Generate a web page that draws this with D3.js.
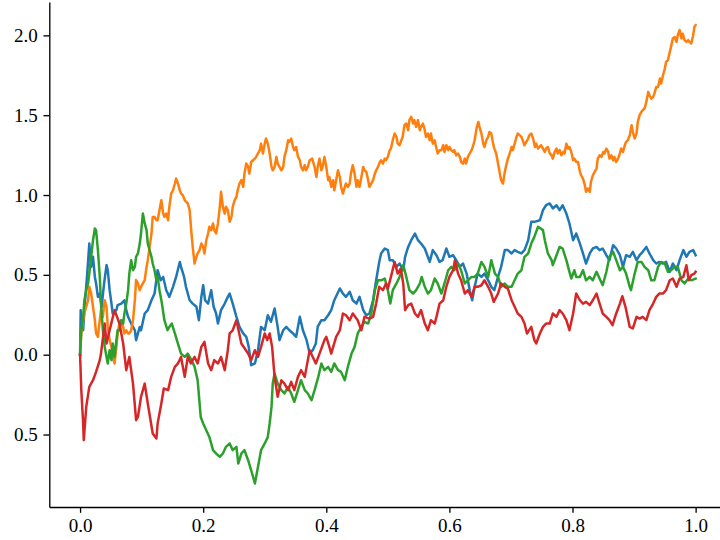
<!DOCTYPE html>
<html>
<head>
<meta charset="utf-8">
<script src="https://cdn.jsdelivr.net/npm/d3@7"></script>
<style>
  html, body { margin: 0; padding: 0; background: #fff; }
  svg { display: block; }
</style>
</head>
<body>
<script>
// ---- data (time, value) ----
const blue = [[0,0],[.001,.279],[.005,.153],[.007,.279],[.012,.529],[.015,.696],[.018,.55],[.021,.613],[.024,.487],[.026,.446],[.029,.362],[.032,.383],[.035,.3],[.039,.446],[.043,.561],[.045,.529],[.048,.404],[.051,.32],[.053,.258],[.059,.279],[.061,.31],[.067,.32],[.072,.341],[.075,.279],[.078,.237],[.083,.195],[.089,.153],[.091,.091],[.097,.174],[.099,.153],[.105,.258],[.11,.279],[.116,.341],[.121,.383],[.126,.529],[.131,.466],[.135,.487],[.14,.404],[.145,.362],[.151,.425],[.156,.487],[.162,.581],[.164,.55],[.169,.487],[.172,.425],[.178,.341],[.183,.32],[.189,.3],[.193,.216],[.197,.362],[.2,.435],[.203,.341],[.208,.32],[.213,.404],[.217,.3],[.221,.258],[.224,.195],[.229,.279],[.235,.32],[.24,.362],[.243,.383],[.248,.32],[.254,.237],[.259,.174],[.265,.133],[.27,.112],[.274,.049],[.278,-.066],[.284,-.055],[.289,.028],[.294,.174],[.3,.153],[.305,.247],[.31,.206],[.316,.289],[.321,.174],[.324,.091],[.33,.153],[.335,.174],[.34,.153],[.346,.133],[.351,.112],[.357,.237],[.362,.153],[.368,.091],[.373,.007],[.378,.028],[.383,.07],[.386,.174],[.392,.216],[.397,.216],[.403,.247],[.408,.279],[.413,.341],[.422,.415],[.427,.383],[.432,.362],[.438,.394],[.443,.341],[.449,.32],[.454,.362],[.46,.279],[.465,.247],[.47,.258],[.476,.341],[.481,.466],[.486,.581],[.489,.634],[.495,.665],[.5,.655],[.503,.592],[.508,.592],[.514,.55],[.519,.571],[.525,.529],[.528,.613],[.533,.675],[.538,.717],[.544,.759],[.549,.717],[.554,.696],[.56,.665],[.564,.623],[.568,.581],[.573,.655],[.579,.623],[.584,.581],[.589,.592],[.595,.665],[.6,.613],[.606,.623],[.611,.592],[.617,.55],[.622,.571],[.628,.508],[.633,.404],[.637,.341],[.641,.425],[.646,.508],[.652,.487],[.657,.508],[.663,.466],[.668,.425],[.673,.404],[.679,.487],[.684,.55],[.69,.655],[.695,.655],[.701,.634],[.706,.655],[.711,.644],[.717,.634],[.722,.655],[.728,.717],[.733,.832],[.738,.832],[.747,.842],[.752,.905],[.757,.936],[.763,.947],[.768,.916],[.774,.936],[.779,.905],[.784,.936],[.79,.884],[.795,.822],[.801,.717],[.806,.759],[.812,.696],[.817,.634],[.822,.571],[.828,.634],[.833,.665],[.839,.675],[.844,.655],[.849,.665],[.855,.623],[.86,.592],[.866,.686],[.871,.665],[.877,.623],[.882,.55],[.887,.623],[.893,.613],[.898,.644],[.904,.592],[.909,.623],[.914,.644],[.92,.675],[.925,.634],[.931,.592],[.936,.571],[.941,.581],[.947,.571],[.952,.581],[.958,.519],[.963,.571],[.969,.529],[.974,.592],[.98,.655],[.985,.613],[.99,.644],[.996,.655],[1,.623]];

const orange = [[0,0],[.002,.133],[.005,.216],[.007,.258],[.01,.3],[.013,.341],[.015,.425],[.018,.383],[.021,.3],[.024,.216],[.026,.133],[.029,.112],[.032,.216],[.034,.279],[.037,.237],[.04,.341],[.043,.3],[.045,.174],[.048,.091],[.051,.049],[.053,-.014],[.056,-.055],[.059,.049],[.061,.133],[.064,.195],[.067,.216],[.07,.174],[.072,.133],[.075,.153],[.078,.133],[.08,.133],[.083,.153],[.086,.216],[.089,.341],[.091,.467],[.094,.446],[.097,.404],[.099,.425],[.102,.446],[.105,.467],[.108,.55],[.11,.592],[.113,.675],[.116,.759],[.118,.863],[.121,.863],[.124,.842],[.126,.842],[.129,.904],[.132,.967],[.135,.884],[.137,.863],[.14,.884],[.143,.842],[.145,.926],[.148,1.009],[.151,1.03],[.154,1.072],[.156,1.103],[.159,1.072],[.162,1.03],[.164,1.009],[.167,.999],[.17,.967],[.175,.947],[.178,.905],[.181,.759],[.183,.675],[.186,.571],[.189,.613],[.191,.634],[.194,.654],[.197,.696],[.2,.675],[.202,.634],[.205,.717],[.208,.759],[.21,.801],[.213,.78],[.216,.822],[.218,.78],[.221,.759],[.224,.822],[.227,.926],[.229,1.02],[.232,.926],[.235,.884],[.237,.926],[.24,.905],[.243,.832],[.246,.863],[.248,.926],[.251,.967],[.254,.988],[.256,1.03],[.259,1.072],[.262,1.093],[.265,1.051],[.267,1.134],[.27,1.197],[.273,1.176],[.275,1.134],[.278,1.207],[.281,1.218],[.284,1.228],[.286,1.239],[.289,1.26],[.292,1.281],[.294,1.322],[.297,1.26],[.3,1.322],[.302,1.354],[.305,1.322],[.308,1.26],[.311,1.176],[.313,1.155],[.316,1.176],[.319,1.239],[.321,1.197],[.324,1.176],[.327,1.155],[.33,1.176],[.332,1.239],[.335,1.281],[.338,1.343],[.34,1.333],[.343,1.354],[.346,1.301],[.348,1.281],[.351,1.301],[.354,1.239],[.357,1.218],[.359,1.176],[.362,1.155],[.365,1.187],[.367,1.155],[.37,1.176],[.373,1.218],[.377,1.228],[.381,1.176],[.384,1.113],[.386,1.176],[.389,1.228],[.392,1.155],[.394,1.176],[.397,1.239],[.4,1.176],[.403,1.093],[.405,1.113],[.408,1.051],[.411,1.093],[.413,1.03],[.416,1.093],[.419,1.155],[.422,1.113],[.424,1.051],[.427,1.009],[.43,1.051],[.432,1.072],[.435,1.051],[.438,1.072],[.44,1.134],[.443,1.187],[.446,1.134],[.449,1.051],[.451,1.093],[.454,1.051],[.457,1.113],[.46,1.176],[.462,1.155],[.465,1.145],[.468,1.093],[.47,1.051],[.473,1.072],[.476,1.093],[.478,1.124],[.481,1.155],[.484,1.176],[.487,1.207],[.489,1.218],[.492,1.197],[.495,1.228],[.497,1.218],[.5,1.239],[.503,1.281],[.505,1.291],[.508,1.343],[.511,1.385],[.514,1.364],[.516,1.322],[.519,1.312],[.522,1.343],[.524,1.364],[.527,1.437],[.53,1.448],[.533,1.406],[.535,1.469],[.538,1.49],[.541,1.448],[.543,1.469],[.546,1.427],[.549,1.469],[.552,1.406],[.554,1.427],[.557,1.448],[.56,1.406],[.562,1.364],[.565,1.385],[.568,1.343],[.57,1.385],[.573,1.322],[.576,1.343],[.579,1.291],[.581,1.26],[.584,1.281],[.587,1.281],[.59,1.312],[.592,1.27],[.595,1.312],[.598,1.281],[.6,1.301],[.603,1.281],[.606,1.27],[.608,1.281],[.611,1.249],[.614,1.26],[.617,1.239],[.619,1.207],[.622,1.197],[.625,1.228],[.627,1.197],[.63,1.239],[.633,1.26],[.636,1.281],[.638,1.301],[.641,1.343],[.644,1.416],[.647,1.458],[.649,1.427],[.652,1.385],[.655,1.322],[.657,1.301],[.66,1.343],[.663,1.364],[.665,1.395],[.668,1.385],[.671,1.322],[.673,1.291],[.676,1.26],[.679,1.197],[.682,1.134],[.684,1.093],[.687,1.072],[.69,1.145],[.693,1.197],[.695,1.228],[.698,1.26],[.701,1.301],[.703,1.281],[.706,1.322],[.709,1.364],[.711,1.385],[.714,1.375],[.717,1.364],[.72,1.333],[.722,1.312],[.725,1.333],[.728,1.354],[.73,1.375],[.733,1.385],[.736,1.354],[.739,1.301],[.741,1.322],[.744,1.291],[.749,1.312],[.752,1.291],[.755,1.27],[.757,1.291],[.76,1.301],[.763,1.26],[.766,1.249],[.768,1.228],[.771,1.27],[.774,1.291],[.776,1.26],[.779,1.281],[.782,1.249],[.785,1.27],[.787,1.26],[.79,1.322],[.793,1.291],[.795,1.301],[.798,1.27],[.801,1.218],[.803,1.228],[.806,1.207],[.809,1.207],[.812,1.145],[.814,1.124],[.817,1.103],[.82,1.062],[.822,1.02],[.825,1.041],[.828,1.02],[.83,1.083],[.833,1.124],[.836,1.145],[.839,1.166],[.841,1.228],[.844,1.249],[.847,1.239],[.85,1.27],[.852,1.26],[.855,1.291],[.858,1.27],[.86,1.228],[.863,1.249],[.866,1.218],[.868,1.239],[.871,1.207],[.874,1.228],[.876,1.249],[.879,1.291],[.882,1.27],[.885,1.312],[.887,1.333],[.89,1.343],[.893,1.375],[.896,1.437],[.898,1.396],[.901,1.354],[.904,1.385],[.906,1.458],[.909,1.5],[.912,1.521],[.914,1.531],[.917,1.542],[.92,1.583],[.923,1.646],[.925,1.625],[.928,1.604],[.931,1.615],[.933,1.635],[.936,1.677],[.939,1.677],[.942,1.73],[.944,1.698],[.947,1.75],[.95,1.792],[.952,1.834],[.955,1.844],[.958,1.896],[.96,1.928],[.963,1.98],[.966,1.99],[.969,1.959],[.971,2.001],[.974,2.033],[.977,1.98],[.979,2.011],[.982,1.97],[.985,1.959],[.988,1.97],[.99,1.959],[.993,1.949],[.996,2.001],[.998,2.053],[1,2.064]];

const green = [[0,0],[.002,.153],[.005,.237],[.007,.341],[.01,.404],[.013,.446],[.015,.508],[.018,.613],[.021,.717],[.024,.79],[.026,.78],[.029,.654],[.032,.487],[.034,.32],[.037,.153],[.04,.049],[.043,-.014],[.045,-.055],[.048,.028],[.051,-.034],[.053,.07],[.056,-.014],[.059,.091],[.061,.153],[.064,.153],[.067,.216],[.07,.195],[.072,.258],[.075,.32],[.078,.404],[.08,.508],[.083,.592],[.086,.529],[.089,.55],[.091,.613],[.094,.634],[.097,.696],[.099,.759],[.102,.884],[.105,.822],[.108,.78],[.11,.696],[.113,.654],[.116,.613],[.118,.571],[.121,.529],[.124,.466],[.126,.487],[.129,.404],[.133,.32],[.137,.216],[.142,.153],[.145,.174],[.149,.195],[.154,.133],[.159,.07],[.164,.007],[.17,-.014],[.175,.007],[.181,-.034],[.186,-.076],[.191,-.16],[.196,-.39],[.2,-.431],[.205,-.473],[.21,-.515],[.216,-.598],[.221,-.619],[.227,-.64],[.232,-.619],[.237,-.577],[.243,-.556],[.248,-.598],[.254,-.577],[.257,-.682],[.262,-.619],[.267,-.598],[.273,-.661],[.278,-.724],[.284,-.807],[.289,-.703],[.294,-.598],[.3,-.556],[.305,-.515],[.308,-.431],[.311,-.327],[.313,-.181],[.316,-.118],[.321,-.181],[.327,-.222],[.332,-.243],[.338,-.202],[.343,-.243],[.348,-.295],[.354,-.222],[.359,-.16],[.365,-.222],[.37,-.243],[.376,-.285],[.381,-.222],[.387,-.139],[.392,-.055],[.397,-.097],[.403,-.076],[.408,-.108],[.413,-.055],[.419,-.097],[.424,-.108],[.43,-.16],[.435,-.076],[.441,.007],[.446,.049],[.451,.133],[.457,.174],[.462,.206],[.468,.195],[.473,.258],[.479,.404],[.484,.466],[.489,.466],[.495,.477],[.5,.404],[.504,.32],[.508,.404],[.514,.446],[.519,.487],[.525,.561],[.53,.487],[.535,.404],[.541,.383],[.546,.404],[.552,.446],[.555,.487],[.56,.425],[.565,.383],[.57,.404],[.576,.477],[.581,.446],[.587,.383],[.592,.446],[.598,.529],[.603,.55],[.608,.529],[.614,.571],[.619,.529],[.625,.446],[.63,.466],[.636,.487],[.641,.487],[.646,.508],[.652,.581],[.657,.55],[.663,.487],[.668,.592],[.674,.508],[.679,.487],[.684,.425],[.69,.446],[.695,.425],[.701,.425],[.706,.466],[.711,.508],[.717,.529],[.722,.613],[.728,.634],[.733,.696],[.738,.738],[.744,.801],[.752,.78],[.755,.717],[.76,.634],[.766,.592],[.768,.561],[.774,.623],[.779,.675],[.784,.665],[.79,.592],[.795,.519],[.798,.477],[.803,.529],[.806,.487],[.812,.487],[.817,.529],[.822,.466],[.828,.487],[.833,.466],[.839,.519],[.844,.477],[.849,.435],[.855,.519],[.86,.613],[.866,.644],[.871,.592],[.877,.529],[.882,.55],[.887,.508],[.893,.425],[.895,.404],[.901,.508],[.906,.581],[.912,.581],[.917,.55],[.923,.529],[.928,.466],[.933,.466],[.939,.55],[.944,.581],[.95,.571],[.955,.519],[.96,.529],[.966,.55],[.971,.55],[.977,.466],[.982,.446],[.988,.477],[.993,.466],[1,.477]];

const red = [[0,0],[.002,-.222],[.005,-.431],[.006,-.535],[.01,-.327],[.015,-.201],[.021,-.16],[.026,-.108],[.032,-.034],[.034,.007],[.04,.195],[.043,.07],[.048,.153],[.056,.279],[.064,.195],[.07,.07],[.075,-.097],[.08,-.014],[.086,-.181],[.091,-.41],[.094,-.389],[.099,-.264],[.105,-.181],[.11,-.306],[.118,-.494],[.124,-.525],[.126,-.431],[.132,-.306],[.136,-.212],[.143,-.222],[.148,-.139],[.154,-.076],[.159,-.055],[.164,-.014],[.17,-.139],[.175,-.014],[.18,-.055],[.186,-.014],[.191,-.055],[.197,.049],[.202,.08],[.208,-.055],[.213,-.097],[.218,-.034],[.224,-.055],[.229,-.014],[.235,-.097],[.24,.028],[.243,.133],[.248,.153],[.254,.216],[.262,.07],[.273,.007],[.278,-.034],[.284,.028],[.289,-.014],[.294,.049],[.3,.133],[.304,.091],[.308,.133],[.312,.049],[.316,-.139],[.321,-.264],[.327,-.16],[.332,-.181],[.338,-.222],[.343,-.17],[.348,-.222],[.354,-.139],[.359,-.097],[.365,-.139],[.37,-.034],[.373,.028],[.378,-.014],[.383,-.055],[.389,.007],[.397,.091],[.4,.112],[.405,.049],[.408,.007],[.416,.112],[.422,.153],[.427,.258],[.432,.247],[.438,.216],[.443,.258],[.451,.216],[.457,.153],[.462,.237],[.47,.226],[.476,.237],[.481,.32],[.486,.425],[.492,.404],[.497,.446],[.5,.414],[.505,.487],[.511,.581],[.516,.508],[.521,.54],[.525,.446],[.528,.279],[.533,.31],[.538,.32],[.544,.258],[.549,.237],[.554,.279],[.56,.195],[.565,.153],[.57,.216],[.576,.195],[.579,.237],[.584,.32],[.59,.341],[.595,.425],[.6,.487],[.606,.529],[.609,.592],[.614,.508],[.619,.466],[.625,.383],[.63,.404],[.636,.362],[.641,.425],[.646,.425],[.652,.435],[.657,.466],[.663,.425],[.668,.383],[.672,.331],[.679,.383],[.684,.446],[.69,.425],[.695,.414],[.701,.341],[.706,.3],[.711,.258],[.717,.237],[.722,.195],[.726,.133],[.733,.174],[.738,.091],[.741,.07],[.747,.133],[.752,.174],[.757,.195],[.763,.195],[.768,.258],[.774,.237],[.779,.279],[.784,.258],[.79,.216],[.795,.153],[.801,.258],[.806,.383],[.812,.341],[.817,.32],[.822,.331],[.828,.31],[.833,.341],[.839,.383],[.844,.32],[.849,.258],[.855,.237],[.86,.216],[.865,.185],[.871,.258],[.877,.32],[.881,.366],[.886,.3],[.893,.174],[.898,.164],[.904,.237],[.909,.226],[.914,.237],[.92,.216],[.925,.279],[.931,.32],[.936,.362],[.941,.383],[.947,.383],[.952,.404],[.958,.466],[.963,.477],[.969,.425],[.974,.477],[.98,.487],[.985,.56],[.989,.466],[.993,.498],[.998,.508],[1,.519]];

const seriesList = [blue, orange, green, red];
const seriesColors = ["#1f77b4", "#ff7f0e", "#2ca02c", "#d62728"];

const xTicks = [0, 0.2, 0.4, 0.6, 0.8, 1.0];
const xTickLabels = ["0.0", "0.2", "0.4", "0.6", "0.8", "1.0"];
const yTicks = [-0.5, 0.0, 0.5, 1.0, 1.5, 2.0];
const yTickLabels = ["0.5", "0.0", "0.5", "1.0", "1.5", "2.0"];

// ---- layout ----
const W = 720, H = 540;
const ptPx = 120 / 72;           // pixels per point
const plotLeft = 49.3, plotRight = 726.4, plotTop = 2, plotBottom = 507;

const svg = d3.select("body").append("svg")
  .attr("width", W).attr("height", H);

const x = d3.scaleLinear().domain([-0.05, 1.05]).range([plotLeft, plotRight]);
const y = d3.scaleLinear().domain([-0.954, 2.209]).range([plotBottom, plotTop]);

const line = d3.line().x(d => x(d[0])).y(d => y(d[1]));

svg.append("g").selectAll("path")
  .data(seriesList)
  .join("path")
  .attr("d", line)
  .attr("fill", "none")
  .attr("stroke", (d, i) => seriesColors[i])
  .attr("stroke-width", 1.5 * ptPx)
  .attr("stroke-linejoin", "round")
  .attr("stroke-linecap", "square");

const fontFamily = "Liberation Serif";
const fontSize = 19;

const xAxis = d3.axisBottom(x)
  .tickValues(xTicks)
  .tickFormat((d, i) => xTickLabels[i])
  .tickSizeInner(3.5 * ptPx).tickSizeOuter(0).tickPadding(3.5 * ptPx);

const yAxis = d3.axisLeft(y)
  .tickValues(yTicks)
  .tickFormat((d, i) => yTickLabels[i])
  .tickSizeInner(3.5 * ptPx).tickSizeOuter(0).tickPadding(3.5 * ptPx);

const gx = svg.append("g").attr("transform", `translate(0,${plotBottom})`).call(xAxis);
const gy = svg.append("g").attr("transform", `translate(${plotLeft},0)`).call(yAxis);

[gx, gy].forEach(g => {
  g.attr("font-family", fontFamily).attr("font-size", fontSize);
  g.select(".domain").attr("stroke", "#000").attr("stroke-width", 0.8 * ptPx);
  g.selectAll(".tick line").attr("stroke", "#000").attr("stroke-width", 0.8 * ptPx);
  g.selectAll(".tick text")
    .attr("fill", "#000")
    .style("font-family", fontFamily)
    .style("font-size", fontSize + "px");
});
</script>
</body>
</html>
